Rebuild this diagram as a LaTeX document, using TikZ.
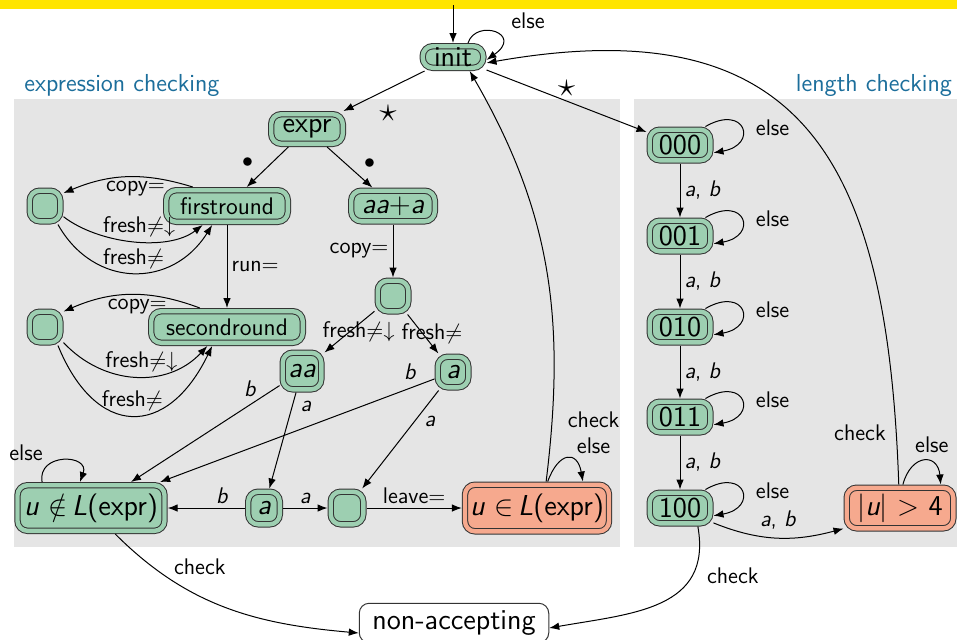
\documentclass[tikz,border=0pt]{standalone}
\usetikzlibrary{arrows.meta}
\definecolor{stgreen}{RGB}{157,207,177}
\definecolor{stred}{RGB}{246,169,142}
\definecolor{bggray}{RGB}{229,229,229}
\definecolor{bandyellow}{RGB}{255,229,0}
\definecolor{headblue}{RGB}{28,110,155}
\newcommand{\mv}[1]{{\itshape #1}}
\newcommand{\bstar}{{\fontsize{17.28}{18}\selectfont$\star$}}
\tikzset{
  st/.style={draw=black!80, line width=0.5pt, fill=stgreen, double=stgreen,
    double distance=2.2pt, rounded corners=5pt, inner sep=0pt, outer sep=1.6pt,
    font=\sffamily\fontsize{14.4}{16}\selectfont},
  stsmall/.style={st, font=\sffamily\fontsize{12}{14}\selectfont},
  acc/.style={st, fill=stred, double=stred},
  plainst/.style={draw=black!80, line width=0.5pt, fill=white, rounded corners=5pt,
    inner sep=0pt, font=\sffamily\fontsize{14.4}{16}\selectfont},
  e/.style={-{Latex[length=5pt,width=3.8pt]}, line width=0.5pt, black},
  lab/.style={font=\sffamily\fontsize{11.3}{13}\selectfont, inner sep=2pt, text=black},
  head/.style={font=\sffamily\fontsize{12.3}{14}\selectfont, text=headblue, inner sep=0pt}
}
\begin{document}
\begin{tikzpicture}[x=0.5pt,y=0.5pt,font=\sffamily]
\useasboundingbox (0,0) rectangle (957,-639);
\fill[bandyellow] (0,0) rectangle (957,-9);
\fill[bggray] (14,-99) rectangle (620,-547);
\fill[bggray] (634,-99) rectangle (957,-547);
\node[head] (hl) at (122,-85) {expression checking};
\node[head] (hr) at (874,-85) {length checking};

% states
\node[st, minimum width=30.3pt, minimum height=10.8pt] (init) at (453,-57) {init};
\node[st, minimum width=35.8pt, minimum height=14.8pt] (expr) at (307,-129) {expr};
\node[stsmall, minimum width=60.8pt, minimum height=15.8pt] (fr) at (227,-206) {firstround};
\node[stsmall, minimum width=75.8pt, minimum height=15.8pt] (sr) at (227,-327) {secondround};
\node[st, minimum width=15.3pt, minimum height=15.3pt] (e1) at (45,-206) {};
\node[st, minimum width=15.3pt, minimum height=15.3pt] (e2) at (45,-327) {};
\node[st, minimum width=41.8pt, minimum height=15.3pt] (aaa) at (393,-206) {\mv{aa}$+$\mv{a}};
\node[st, minimum width=15.3pt, minimum height=15.3pt] (em) at (393,-296) {};
\node[st, minimum width=19.3pt, minimum height=18.3pt] (aa) at (302,-371) {\mv{aa}};
\node[st, minimum width=15.3pt, minimum height=15.3pt] (atr) at (453,-372) {\mv{a}};
\node[st, minimum width=15.8pt, minimum height=16.3pt] (abot) at (264,-508) {\mv{a}};
\node[st, minimum width=16.3pt, minimum height=16.3pt] (ebot) at (347,-508) {};
\node[st, minimum width=73.5pt, minimum height=22.8pt] (unin) at (91,-508) {\mv{u}\,\,$\notin$\,\mv{L}(expr)};
\node[acc, minimum width=72pt, minimum height=23.3pt] (uin) at (537,-508) {\mv{u}\,\,$\in$\,\mv{L}(expr)};
\node[st, minimum width=30.3pt, minimum height=15.3pt] (n000) at (680,-145) {000};
\node[st, minimum width=30.3pt, minimum height=15.3pt] (n001) at (680,-236) {001};
\node[st, minimum width=30.3pt, minimum height=15.3pt] (n010) at (680,-327) {010};
\node[st, minimum width=30.3pt, minimum height=15.3pt] (n011) at (680,-417) {011};
\node[st, minimum width=30.3pt, minimum height=15.3pt] (n100) at (680,-508) {100};
\node[acc, minimum width=53.3pt, minimum height=20.3pt] (big) at (900,-508) {$|$\mv{u}$|$ $>$ 4};
\node[plainst, minimum width=94.75pt, minimum height=19.75pt] (nacc) at (454,-623) {non-accepting};

\coordinate (start) at (453,-5);
\draw[e] (start) -- (init);
\draw[e] ([xshift=7.5pt]init.north) .. controls +(72:26) and +(35:46) .. node[lab, pos=0.4, right=9pt, yshift=5pt]{else} (init.-5);
\draw[e] (init) -- node[lab, pos=0.45, below=6pt]{\bstar} (expr);
\draw[e] (init) -- node[lab, pos=0.5, above]{\bstar} (n000);
\draw[e] (expr) -- node[lab, left=5pt, yshift=2pt]{$\bullet$} (fr);
\draw[e] (expr) -- node[lab, right=5pt, yshift=2pt]{$\bullet$} (aaa);
\draw[e] (fr) -- node[lab, right]{run$=$} (sr);

\draw[e] (fr.151) to[bend right=20] node[lab, below, xshift=4pt]{copy$=$} (e1.35);
\draw[e] (e1.-30) .. controls +(35,-27) and +(-35,-27) .. node[lab, above, xshift=3pt]{fresh$\neq\downarrow$} (fr.218);
\draw[e] (e1.-55) .. controls +(36,-64) and +(-40,-64) .. node[lab, above]{fresh$\neq$} (fr.232);
\draw[e] (sr.145) to[bend right=22] node[lab, below, xshift=3pt]{copy$=$} (e2.40);
\draw[e] (e2.-40) .. controls +(40,-43) and +(-40,-43) .. node[lab, above, xshift=3pt]{fresh$\neq\downarrow$} (sr.224);
\draw[e] (e2.-55) .. controls +(38,-93) and +(-45,-93) .. node[lab, above]{fresh$\neq$} (sr.232);

\draw[e] (aaa) -- node[lab, left]{copy$=$} (em);
\draw[e] (em) -- node[lab, pos=0.5, xshift=4.5pt]{fresh$\neq\downarrow$} (aa);
\draw[e] (em) -- node[lab, pos=0.5, xshift=4.5pt]{fresh$\neq$} (atr);
\draw[e] (aa) -- node[lab, pos=0.2, above=2pt]{\mv{b}} (unin);
\draw[e] (aa) -- node[lab, pos=0.15, right=2pt]{\mv{a}} (abot);
\draw[e] (atr) -- node[lab, pos=0.09, above=2pt]{\mv{b}} (unin);
\draw[e] (atr) -- node[lab, pos=0.32, right=3pt]{\mv{a}} (ebot);
\draw[e] (abot) -- node[lab, pos=0.3, above]{\mv{b}} (unin);
\draw[e] (abot) -- node[lab, above]{\mv{a}} (ebot);
\draw[e] (ebot) -- node[lab, above]{leave$=$} (uin);

\draw[e] (uin.71) to[out=83, in=-60] (init.-40);
\draw[e] (uin.68) .. controls +(70:32) and +(100:32) .. node[lab, above right, align=center, xshift=-2pt]{check\\else} (uin.30);
\draw[e] (unin.152) .. controls +(100:30) and +(70:30) .. node[lab, pos=0.25, above left]{else} (unin.113);
\draw[e] (unin.-47) to[out=-45, in=175] node[lab, pos=0.25, above right]{check} ([yshift=-5pt]nacc.west);

% length checking
\draw[e] (n000) -- node[lab, right]{\mv{a}, \mv{b}} (n001);
\draw[e] (n001) -- node[lab, right]{\mv{a}, \mv{b}} (n010);
\draw[e] (n010) -- node[lab, right]{\mv{a}, \mv{b}} (n011);
\draw[e] (n011) -- node[lab, right]{\mv{a}, \mv{b}} (n100);
\draw[e] (n000.36) .. controls +(30:46) and +(10:46) .. node[lab, pos=0.5, right=5pt]{else} (n000.-13);
\draw[e] (n001.36) .. controls +(30:46) and +(10:46) .. node[lab, pos=0.5, right=5pt]{else} (n001.-13);
\draw[e] (n010.36) .. controls +(30:46) and +(10:46) .. node[lab, pos=0.5, right=5pt]{else} (n010.-13);
\draw[e] (n011.36) .. controls +(30:46) and +(10:46) .. node[lab, pos=0.5, right=5pt]{else} (n011.-13);
\draw[e] (n100.36) .. controls +(30:46) and +(10:46) .. node[lab, pos=0.5, right=5pt]{else} (n100.-13);
\draw[e] (n100.-24) to[out=-22, in=195] node[lab, pos=0.5, above=2pt]{\mv{a}, \mv{b}} (big.200);
\draw[e] (n100.-46) to[out=-80, in=10, looseness=1.2] node[lab, pos=0.25, right=5pt]{check} ([yshift=-2.5pt]nacc.east);
\draw[e] (big.93) to[out=92, in=10, looseness=1.4] node[lab, pos=0.055, left=3pt]{check} (init.-10);
\draw[e] (big.83) .. controls +(75:32) and +(95:32) .. node[lab, above, xshift=4pt, yshift=2pt]{else} (big.30);
\end{tikzpicture}
\end{document}
